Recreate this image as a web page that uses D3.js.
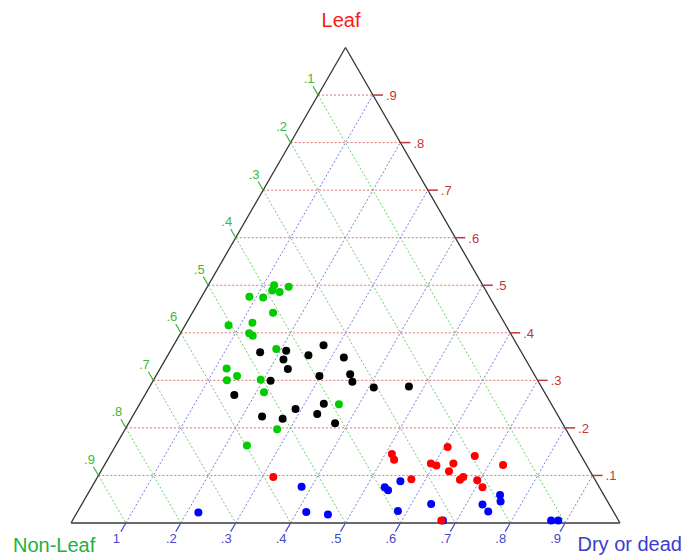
<!DOCTYPE html>
<html>
<head>
  <meta charset="utf-8">
  <script src="https://d3js.org/d3.v7.min.js"></script>
  <style>
    body {
      margin: 0;
      background-color: white;
    }
    svg text {
      font-family: 'Liberation Sans', Arial, sans-serif;
    }
  </style>
</head>
<body>
  <svg id="chart" width="683" height="557"></svg>
  <script>
    // compositions: [leaf, nonLeaf, dry]
    const greenPts = [
      [0.500, 0.380, 0.120], [0.489, 0.389, 0.122], [0.486, 0.377, 0.137], [0.497, 0.355, 0.148],
      [0.476, 0.437, 0.087], [0.474, 0.413, 0.113], [0.442, 0.411, 0.147], [0.416, 0.505, 0.079],
      [0.421, 0.459, 0.120], [0.399, 0.476, 0.125], [0.394, 0.472, 0.134], [0.366, 0.443, 0.191],
      [0.325, 0.554, 0.121], [0.309, 0.543, 0.148], [0.300, 0.566, 0.134], [0.301, 0.504, 0.195],
      [0.275, 0.511, 0.214], [0.250, 0.387, 0.363], [0.197, 0.526, 0.277], [0.163, 0.598, 0.239]
    ];
    const blackPts = [
      [0.359, 0.476, 0.165], [0.362, 0.427, 0.211], [0.344, 0.441, 0.215], [0.324, 0.443, 0.233],
      [0.353, 0.391, 0.256], [0.374, 0.353, 0.273], [0.348, 0.329, 0.323], [0.299, 0.487, 0.214],
      [0.309, 0.393, 0.298], [0.313, 0.335, 0.352], [0.297, 0.339, 0.364], [0.285, 0.306, 0.409],
      [0.287, 0.241, 0.472], [0.269, 0.568, 0.163], [0.251, 0.414, 0.335], [0.240, 0.471, 0.289],
      [0.229, 0.437, 0.334], [0.224, 0.540, 0.236], [0.219, 0.505, 0.276], [0.210, 0.414, 0.376]
    ];
    const bluePts = [
      [0.075, 0.391, 0.534], [0.069, 0.388, 0.543], [0.088, 0.356, 0.556], [0.025, 0.392, 0.583],
      [0.040, 0.324, 0.636], [0.005, 0.320, 0.675], [0.039, 0.231, 0.730], [0.024, 0.228, 0.748],
      [0.059, 0.189, 0.752], [0.045, 0.195, 0.760], [0.005, 0.123, 0.872], [0.005, 0.110, 0.885],
      [0.022, 0.757, 0.221], [0.076, 0.542, 0.382], [0.023, 0.560, 0.417], [0.018, 0.523, 0.459]
    ];
    const redPts = [
      [0.145, 0.343, 0.512], [0.133, 0.345, 0.522], [0.160, 0.234, 0.606], [0.125, 0.282, 0.593],
      [0.121, 0.274, 0.605], [0.125, 0.241, 0.634], [0.141, 0.194, 0.665], [0.122, 0.152, 0.726],
      [0.109, 0.257, 0.634], [0.092, 0.334, 0.574], [0.091, 0.246, 0.663], [0.097, 0.237, 0.666],
      [0.090, 0.215, 0.695], [0.075, 0.213, 0.712], [0.005, 0.323, 0.672], [0.097, 0.583, 0.320]
    ];

    const gridVals = [0.1, 0.2, 0.3, 0.4, 0.5, 0.6, 0.7, 0.8, 0.9];
    const leafLabels = ['.1', '.2', '.3', '.4', '.5', '.6', '.7', '.8', '.9'];
    const nonLeafLabels = ['.1', '.2', '.3', '.4', '.5', '.6', '.7', '.8', '.9'];
    const dryLabels = ['1', '.2', '.3', '.4', '.5', '.6', '.7', '.8', '.9'];

    const svg = d3.select('#chart');

    // equilateral triangle: base from 71 to 620, apex 475.5 px above
    const x = d3.scaleLinear().domain([0, 1]).range([71, 620]);
    const y = d3.scaleLinear().domain([0, 1]).range([523, 47.5]);

    // leaf on top, dry at right, nonLeaf at left
    function proj(leaf, dry) {
      return [x(dry + leaf / 2), y(leaf)];
    }

    const redGrid = '#e07070', greenGrid = '#70cc70', blueGrid = '#7a7ae0';
    const redLab = '#c03838', greenLab = '#3cb83c', blueLab = '#4848c8';

    const grid = svg.append('g')
      .attr('fill', 'none')
      .attr('stroke-width', 1)
      .attr('stroke-dasharray', '2,2');

    // leaf = const (horizontal)
    grid.selectAll('.gl')
      .data(gridVals)
      .join('line')
      .attr('x1', d => proj(d, 0)[0]).attr('y1', d => proj(d, 0)[1])
      .attr('x2', d => proj(d, 1 - d)[0]).attr('y2', d => proj(d, 1 - d)[1])
      .attr('stroke', redGrid);

    // nonLeaf = const
    grid.selectAll('.gn')
      .data(gridVals)
      .join('line')
      .attr('x1', d => proj(1 - d, 0)[0]).attr('y1', d => proj(1 - d, 0)[1])
      .attr('x2', d => proj(0, 1 - d)[0]).attr('y2', d => proj(0, 1 - d)[1])
      .attr('stroke', greenGrid);

    // dry = const
    grid.selectAll('.gd')
      .data(gridVals)
      .join('line')
      .attr('x1', d => proj(0, d)[0]).attr('y1', d => proj(0, d)[1])
      .attr('x2', d => proj(1 - d, d)[0]).attr('y2', d => proj(1 - d, d)[1])
      .attr('stroke', blueGrid);

    // triangle edges
    const pL = proj(0, 0), pR = proj(0, 1), pT = proj(1, 0);
    svg.append('line')
      .attr('x1', pL[0]).attr('y1', pL[1]).attr('x2', pT[0]).attr('y2', pT[1])
      .attr('stroke', '#333').attr('stroke-width', 1.3);
    svg.append('line')
      .attr('x1', pT[0]).attr('y1', pT[1]).attr('x2', pR[0]).attr('y2', pR[1])
      .attr('stroke', '#333').attr('stroke-width', 1.3);
    svg.append('line')
      .attr('x1', pL[0]).attr('y1', pL[1]).attr('x2', pR[0]).attr('y2', pR[1])
      .attr('stroke', '#6a6a6a').attr('stroke-width', 2.2);

    const tickLen = 10, c = Math.cos(Math.PI / 3), s = Math.sin(Math.PI / 3);

    // leaf ticks on right edge
    const lt = svg.append('g');
    gridVals.forEach((d, i) => {
      const p = proj(d, 1 - d);
      lt.append('line')
        .attr('x1', p[0]).attr('y1', p[1]).attr('x2', p[0] + tickLen).attr('y2', p[1])
        .attr('stroke', redLab).attr('stroke-width', 1.5);
      lt.append('text')
        .attr('x', p[0] + 13).attr('y', p[1] + 5)
        .attr('fill', redLab).style('font-size', '13px')
        .text(leafLabels[i]);
    });

    // nonLeaf ticks on left edge
    const nt = svg.append('g');
    gridVals.forEach((d, i) => {
      const p = proj(1 - d, 0);
      nt.append('line')
        .attr('x1', p[0]).attr('y1', p[1])
        .attr('x2', p[0] - tickLen * c).attr('y2', p[1] - tickLen * s)
        .attr('stroke', greenLab).attr('stroke-width', 1.2);
      nt.append('text')
        .attr('x', p[0] - 18 * c).attr('y', p[1] - 18 * s + 4)
        .attr('text-anchor', 'middle')
        .attr('fill', greenLab).style('font-size', '13px')
        .text(nonLeafLabels[i]);
    });

    // dry ticks on bottom edge
    const dt = svg.append('g');
    gridVals.forEach((d, i) => {
      const p = proj(0, d);
      dt.append('line')
        .attr('x1', p[0]).attr('y1', p[1])
        .attr('x2', p[0] - tickLen * c).attr('y2', p[1] + tickLen * s)
        .attr('stroke', blueLab).attr('stroke-width', 1.2);
      dt.append('text')
        .attr('x', p[0] - 19 * c).attr('y', p[1] + 19 * s + 4)
        .attr('text-anchor', 'middle')
        .attr('fill', blueLab).style('font-size', '13px')
        .text(dryLabels[i]);
    });

    // points
    const groups = [
      { pts: bluePts, color: '#0000ff' },
      { pts: redPts, color: '#ff0000' },
      { pts: greenPts, color: '#00cc00' },
      { pts: blackPts, color: '#000000' }
    ];
    groups.forEach(g => {
      svg.append('g')
        .selectAll('circle')
        .data(g.pts)
        .join('circle')
        .attr('cx', d => proj(d[0], d[2])[0])
        .attr('cy', d => proj(d[0], d[2])[1])
        .attr('r', 4)
        .attr('fill', g.color);
    });

    // axis titles
    svg.append('text')
      .attr('x', 341).attr('y', 27)
      .attr('text-anchor', 'middle')
      .attr('fill', '#ff1a1a').style('font-size', '20px')
      .text('Leaf');
    svg.append('text')
      .attr('x', 13).attr('y', 552)
      .attr('fill', '#22b040').style('font-size', '20px')
      .text('Non-Leaf');
    svg.append('text')
      .attr('x', 682).attr('y', 551)
      .attr('text-anchor', 'end')
      .attr('fill', '#3c3cd0').style('font-size', '20px')
      .text('Dry or dead');
  </script>
</body>
</html>
